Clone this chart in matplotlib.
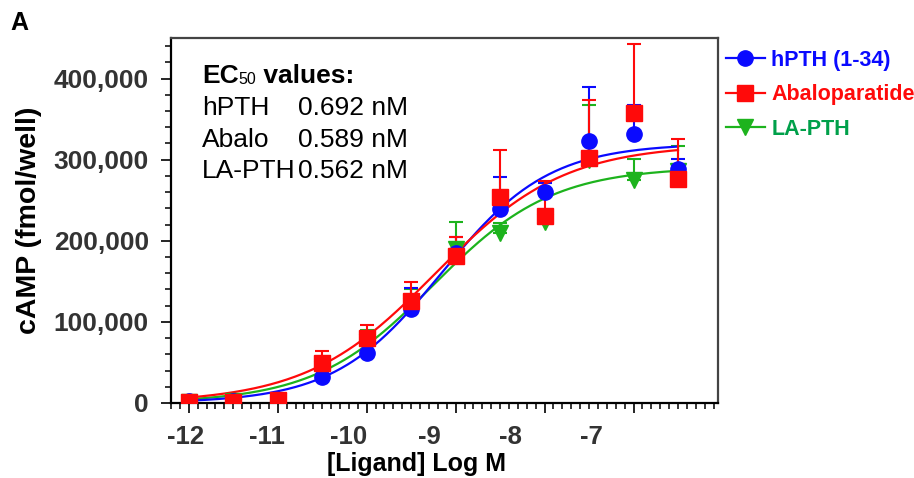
import numpy as np
import matplotlib
matplotlib.use('Agg')
import matplotlib.pyplot as plt
from matplotlib.lines import Line2D
from matplotlib.ticker import MultipleLocator, FuncFormatter

plt.rcParams['font.family'] = ['Liberation Sans', 'DejaVu Sans']

# data
log_conc = [-12, -11.5, -11, -10.5, -10, -9.5, -9, -8.5, -8, -7.5, -7, -6.5]

hpth_mean = [2000, 2000, 0, 32000, 62000, 116000, 185000, 239000, 260000, 323000, 332000, 289000]
hpth_err = [1000, 1000, 1000, 3000, 8000, 26000, 20000, 40000, 11000, 67000, 35000, 12000]

abalo_mean = [1000, 1500, 4000, 49000, 80000, 126000, 181000, 254000, 231000, 302000, 358000, 276000]
abalo_err = [1000, 1000, 2000, 15000, 16000, 23000, 24000, 58000, 43000, 71000, 84000, 50000]

lapth_mean = [1000, 2000, 3000, 42000, 75000, 120000, 190000, 210000, 223000, 300000, 275000, 286000]
lapth_err = [1000, 1000, 1000, 8000, 15000, 20000, 33000, 12000, 8000, 68000, 26000, 31000]

# 4PL fit parameters: bottom, top, EC50 (nM), hill slope
hpth_fit = (0, 320000, 0.692, 0.72)
abalo_fit = (0, 319000, 0.589, 0.60)
lapth_fit = (0, 291000, 0.562, 0.65)

series_names = ['hPTH (1-34)', 'Abaloparatide', 'LA-PTH']
ec50_names = ['hPTH', 'Abalo', 'LA-PTH']

BLUE = '#0a0aff'
RED = '#ff0a0a'
GREEN = '#1db31d'
GREEN_TXT = '#00a04a'


def hill(x, bottom, top, ec50_nm, h):
    logec = np.log10(ec50_nm * 1e-9)
    return bottom + (top - bottom) / (1 + 10 ** ((logec - x) * h))


fig = plt.figure(figsize=(9.14, 4.78), dpi=100)
ax = fig.add_axes([171 / 914, 75 / 478, 547 / 914, 365 / 478])

xs = np.linspace(-12, -6.5, 300)
series = [
    (lapth_mean, lapth_err, lapth_fit, GREEN, 'v', 11),
    (hpth_mean, hpth_err, hpth_fit, BLUE, 'o', 11),
    (abalo_mean, abalo_err, abalo_fit, RED, 's', 11),
]
for z, (mean, err, fit, col, mk, ms) in enumerate(series):
    ax.errorbar(log_conc, mean, yerr=[np.zeros(len(err)), err], fmt='none',
                ecolor=col, elinewidth=1.5, capsize=4.7, capthick=1.5, zorder=2 + z)
    ax.plot(xs, hill(xs, *fit), color=col, lw=1.6, zorder=2 + z)
    ax.plot(log_conc, mean, ls='none', marker=mk, ms=ms, color=col, mec=col, zorder=5 + z)

ax.set_xlim(-12.2, -6.05)
ax.set_ylim(0, 450000)

# axes look
for s in ['left', 'bottom']:
    ax.spines[s].set_linewidth(1.6)
    ax.spines[s].set_color('black')
for s in ['top', 'right']:
    ax.spines[s].set_linewidth(1.6)
    ax.spines[s].set_color('#444444')

ax.set_xticks(range(-12, -6))
ax.set_xticklabels([])
ax.xaxis.set_minor_locator(MultipleLocator(0.1))
ax.yaxis.set_major_locator(MultipleLocator(100000))
ax.yaxis.set_minor_locator(MultipleLocator(20000))
ax.yaxis.set_major_formatter(FuncFormatter(lambda v, p: f'{int(v):,}'))
ax.tick_params(which='major', length=7, width=1.2, color='black')
ax.tick_params(which='minor', length=4, width=1.1, color='black')
ax.tick_params(axis='y', which='major', labelsize=19, labelcolor='#333333', pad=9)
for lb in ax.get_yticklabels():
    lb.set_fontweight('bold')

# x tick labels sit slightly compressed relative to the ticks in the original
lab_scale, lab_off = 0.9124, -12.034
sec = ax.secondary_xaxis('bottom',
                         functions=(lambda x: -12 + (x - lab_off) / lab_scale,
                                    lambda v: lab_off + (v + 12) * lab_scale))
sec.set_xticks(range(-12, -6))
sec.set_xticklabels([str(v) for v in range(-12, -6)], fontsize=18.5,
                    fontweight='bold', color='#333333')
sec.tick_params(length=0, pad=16)
sec.spines['bottom'].set_visible(False)

ax.set_xlabel('[Ligand] Log M', fontsize=18, fontweight='bold', va='top')
ax.xaxis.set_label_coords(0.448, -0.135)
ax.set_ylabel('cAMP (fmol/well)', fontsize=20.5, fontweight='bold')
ax.yaxis.set_label_coords(-0.236, 0.5)

# EC50 box
fs = 19
t = ax.text(0.0567, 0.8767, 'EC', transform=ax.transAxes, fontsize=fs,
            fontweight='bold', va='baseline')
t2 = ax.annotate('50', xy=(1, 0), xycoords=t, fontsize=11.5, va='bottom',
                 xytext=(0, 0.5), textcoords='offset points')
ax.annotate(' values:', xy=(1, 0), xycoords=t2, fontsize=fs, fontweight='bold',
            va='bottom', xytext=(0, -0.5), textcoords='offset points')
ec50_vals = [hpth_fit[2], abalo_fit[2], lapth_fit[2]]
for i, (nm, v) in enumerate(zip(ec50_names, ec50_vals)):
    y = [0.789, 0.7014, 0.6164][i]
    ax.text(0.0567, y, nm, transform=ax.transAxes, fontsize=fs, va='baseline')
    ax.text(0.2322, y, f'{v:.3f} nM', transform=ax.transAxes, fontsize=fs, va='baseline')

# legend
handles = [Line2D([], [], color=BLUE, marker='o', ms=11, lw=1.6),
           Line2D([], [], color=RED, marker='s', ms=11, lw=1.6),
           Line2D([], [], color=GREEN, marker='v', ms=11, lw=1.6)]
leg = fig.legend(handles, series_names, loc='upper left',
                 bbox_to_anchor=(726 / 914, 1 - 50 / 478), frameon=False,
                 prop={'size': 15.5, 'weight': 'bold'}, handlelength=1.8,
                 handletextpad=0.3, labelspacing=0.62, borderpad=0, borderaxespad=0)
for txt, c in zip(leg.get_texts(), [BLUE, RED, GREEN_TXT]):
    txt.set_color(c)

fig.text(10 / 914, 1 - 30 / 478, 'A', fontsize=18, fontweight='bold', va='baseline')

fig.savefig('out.png', dpi=100)
